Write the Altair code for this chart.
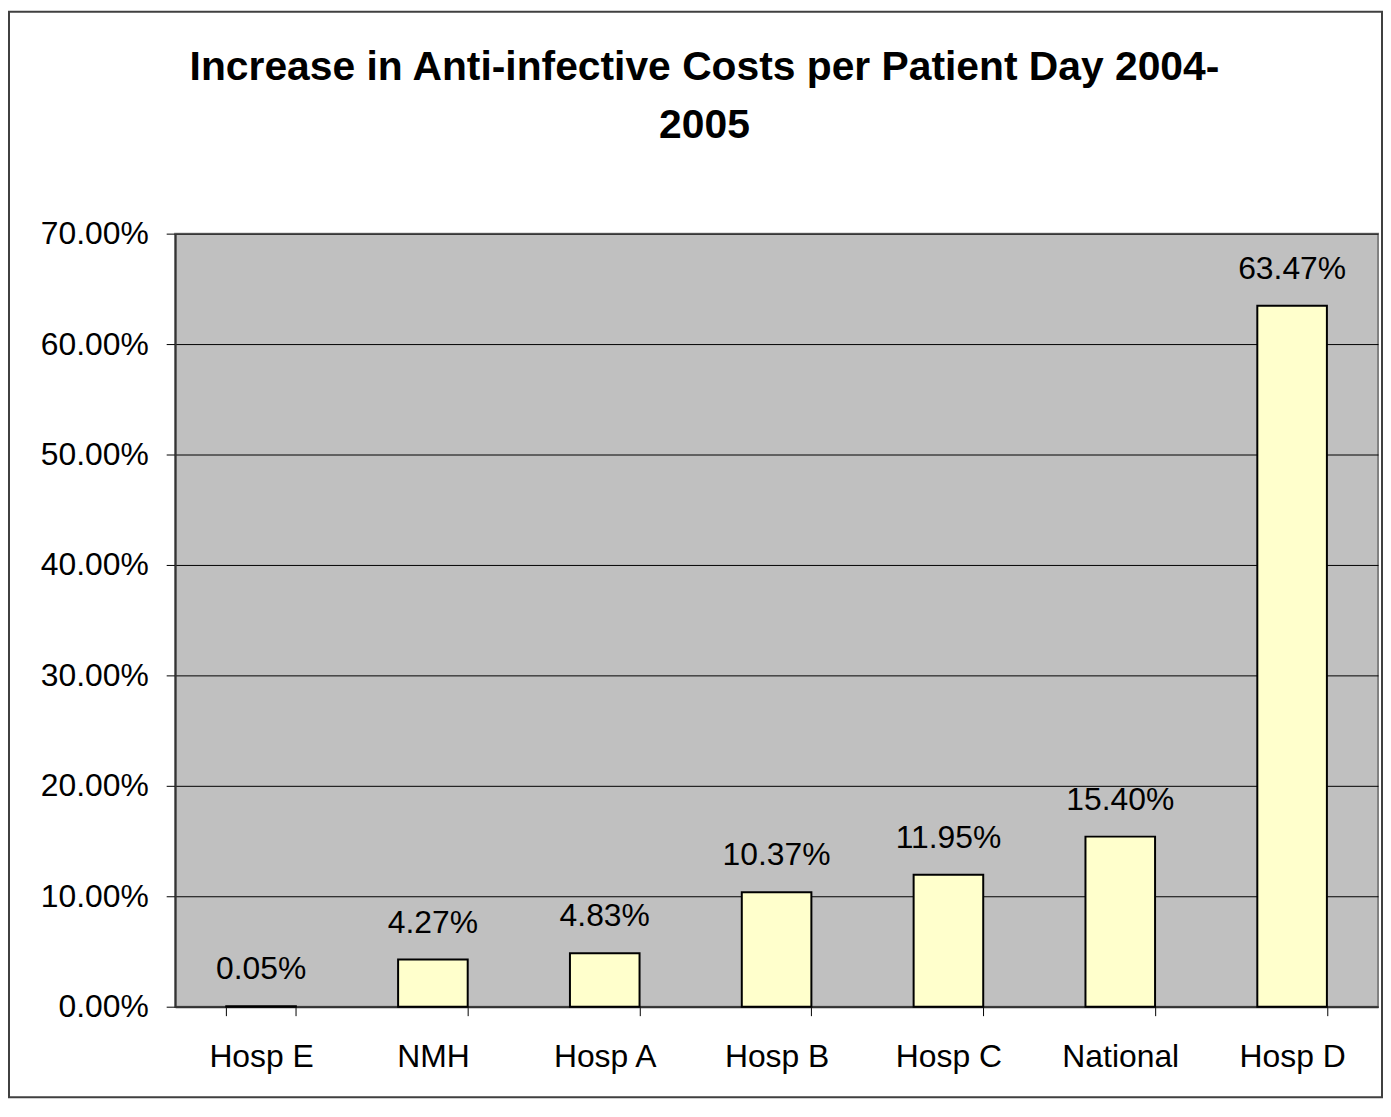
import altair as alt
import pandas as pd

categories = ["Hosp E", "NMH", "Hosp A", "Hosp B", "Hosp C", "National", "Hosp D"]
values = [0.0005, 0.0427, 0.0483, 0.1037, 0.1195, 0.1540, 0.6347]
y_ticks = [0, 0.1, 0.2, 0.3, 0.4, 0.5, 0.6, 0.7]
title_lines = ["Increase in Anti-infective Costs per Patient Day 2004-", "2005"]

df = pd.DataFrame({"cat": categories, "val": values})

FONT = "Liberation Sans"
W, H = 1209, 777

x_enc = alt.X("cat:N", sort=categories,
              scale=alt.Scale(paddingInner=0.595, paddingOuter=0.2975),
              axis=alt.Axis(title=None, labelAngle=0, labelFont=FONT, labelFontSize=32,
                            labelColor="black", labelPadding=26, tickBand="extent",
                            tickSize=9, tickColor="black", tickWidth=1,
                            domainColor="#333333", domainWidth=2, grid=False))
y_enc = alt.Y("val:Q", scale=alt.Scale(domain=[0, 0.7], nice=False),
              axis=alt.Axis(title=None, values=y_ticks, format=".2%", labelFont=FONT,
                            labelFontSize=32, labelColor="black", labelPadding=18,
                            tickSize=9, tickColor="black", tickWidth=1,
                            domainColor="#333333", domainWidth=2,
                            grid=True, gridColor="black", gridWidth=1, gridOpacity=1))

bars = alt.Chart(df).mark_bar(fill="#FFFFCC", stroke="black", strokeWidth=2).encode(
    x=x_enc, y=y_enc)

labels = alt.Chart(df).mark_text(font=FONT, fontSize=32, color="black",
                                 baseline="alphabetic", dy=-27).encode(
    x=alt.X("cat:N", sort=categories), y=alt.Y("val:Q"),
    text=alt.Text("val:Q", format=".2%"))

deco = pd.DataFrame({"a": [0]})

frame = alt.Chart(deco).mark_rect(
    fill=None, stroke="#404040", strokeWidth=2).encode(
    x=alt.value(-167), x2=alt.value(1213), y=alt.value(-223), y2=alt.value(868))

title = alt.Chart(deco).mark_text(
    font=FONT, fontSize=41, fontWeight="bold", color="black", align="center",
    baseline="alphabetic", lineHeight=58).encode(
    x=alt.value(532), y=alt.value(-154), text=alt.value(title_lines))

chart = alt.layer(frame, bars, labels, title).properties(
    width=W, height=H,
    autosize=alt.AutoSizeParams(type="none"),
    padding={"left": 168, "top": 224, "right": 5, "bottom": 92},
    background="white",
).configure_view(stroke="#808080", strokeWidth=2, fill="#C0C0C0")

chart.save("out.html", embed_options={"renderer": "svg", "actions": False})
